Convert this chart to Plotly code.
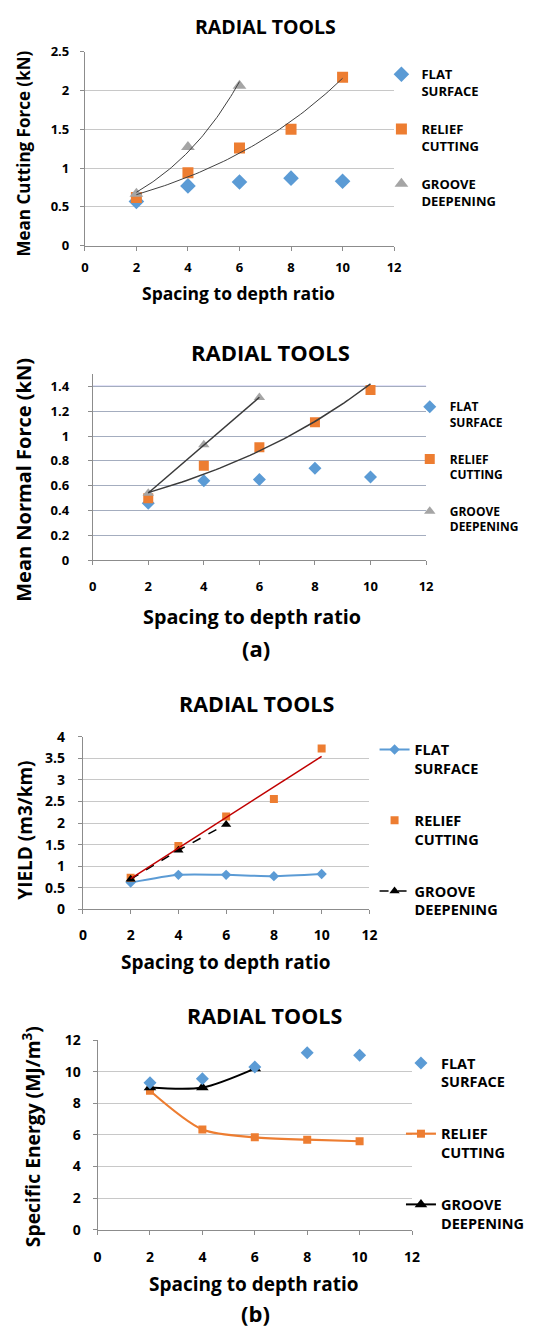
import numpy as np
import plotly.graph_objects as go

W, H = 539, 1338

# ---------------- data ----------------
ratio = [2, 4, 6, 8, 10]
ratio_groove = [2, 4, 6]
series_names = ["FLAT<br>SURFACE", "RELIEF<br>CUTTING", "GROOVE<br>DEEPENING"]

# (a) top: mean cutting force (kN)
fc_flat = [0.57, 0.77, 0.82, 0.87, 0.83]
fc_relief = [0.62, 0.94, 1.26, 1.50, 2.17]
fc_groove = [0.67, 1.27, 2.06]

# (a) bottom: mean normal force (kN)
fn_flat = [0.46, 0.64, 0.65, 0.74, 0.67]
fn_relief = [0.50, 0.76, 0.91, 1.11, 1.37]
fn_groove = [0.54, 0.93, 1.31]

# (b) top: yield (m3/km)
yl_flat = [0.62, 0.80, 0.80, 0.77, 0.82]
yl_relief = [0.73, 1.47, 2.15, 2.56, 3.73]
yl_groove = [0.70, 1.37, 1.97]

# (b) bottom: specific energy (MJ/m3)
se_flat = [9.3, 9.55, 10.3, 11.2, 11.05]
se_relief = [8.8, 6.35, 5.85, 5.7, 5.6]
se_groove = [9.0, 9.0, 10.2]

x_ticks = [0, 2, 4, 6, 8, 10, 12]

BLUE = "#5B9BD5"
ORANGE = "#ED7D31"
GRAY = "#A5A5A5"

FONT = "Open Sans"


def px_x(p):
    return p / W


def px_y(p):
    return 1 - p / H


def exp_fit(x, y, n=60):
    x = np.asarray(x, float)
    y = np.asarray(y, float)
    b, a = np.polyfit(x, np.log(y), 1)
    xs = np.linspace(x.min(), x.max(), n)
    return xs, np.exp(a) * np.exp(b * xs)


def lin_fit(x, y):
    x = np.asarray(x, float)
    y = np.asarray(y, float)
    m, c = np.polyfit(x, y, 1)
    xs = np.array([x.min(), x.max()])
    return xs, m * xs + c


fig = go.Figure()

# ---------- panel 1 ----------
fig.add_trace(go.Scatter(x=ratio, y=fc_flat, mode="markers", name=series_names[0],
                         marker=dict(symbol="diamond", size=12, color=BLUE),
                         xaxis="x", yaxis="y", legend="legend", legendgroup="a1"))
fig.add_trace(go.Scatter(x=ratio, y=fc_relief, mode="markers", name=series_names[1],
                         marker=dict(symbol="square", size=11, color=ORANGE),
                         xaxis="x", yaxis="y", legend="legend", legendgroup="a2"))
fig.add_trace(go.Scatter(x=ratio_groove, y=fc_groove, mode="markers", name=series_names[2],
                         marker=dict(symbol="triangle-up", size=12, color=GRAY),
                         xaxis="x", yaxis="y", legend="legend", legendgroup="a3"))
for xx, yy in [exp_fit(ratio_groove, fc_groove), exp_fit(ratio, fc_relief)]:
    fig.add_trace(go.Scatter(x=xx, y=yy, mode="lines", line=dict(color="#404040", width=1),
                             xaxis="x", yaxis="y", showlegend=False, hoverinfo="skip"))

# ---------- panel 2 ----------
fig.add_trace(go.Scatter(x=ratio, y=fn_flat, mode="markers", name=series_names[0],
                         marker=dict(symbol="diamond", size=10, color=BLUE),
                         xaxis="x2", yaxis="y2", legend="legend2", legendgroup="b1"))
fig.add_trace(go.Scatter(x=ratio, y=fn_relief, mode="markers", name=series_names[1],
                         marker=dict(symbol="square", size=10, color=ORANGE),
                         xaxis="x2", yaxis="y2", legend="legend2", legendgroup="b2"))
fig.add_trace(go.Scatter(x=ratio_groove, y=fn_groove, mode="markers", name=series_names[2],
                         marker=dict(symbol="triangle-up", size=10, color=GRAY),
                         xaxis="x2", yaxis="y2", legend="legend2", legendgroup="b3"))
for xx, yy in [lin_fit(ratio_groove, fn_groove), exp_fit(ratio, fn_relief)]:
    fig.add_trace(go.Scatter(x=xx, y=yy, mode="lines", line=dict(color="#3a3a3a", width=1.5),
                             xaxis="x2", yaxis="y2", showlegend=False, hoverinfo="skip"))

# ---------- panel 3 ----------
fig.add_trace(go.Scatter(x=ratio, y=yl_flat, mode="lines+markers", name=series_names[0],
                         line=dict(color=BLUE, width=2, shape="spline", smoothing=0.6),
                         marker=dict(symbol="diamond", size=8, color=BLUE),
                         xaxis="x3", yaxis="y3", legend="legend3", legendgroup="c1"))
fig.add_trace(go.Scatter(x=ratio, y=yl_relief, mode="markers", name=series_names[1],
                         marker=dict(symbol="square", size=8, color=ORANGE),
                         xaxis="x3", yaxis="y3", legend="legend3", legendgroup="c2"))
fig.add_trace(go.Scatter(x=ratio_groove, y=yl_groove, mode="lines+markers", name=series_names[2],
                         line=dict(color="black", width=1.5, dash="dash"),
                         marker=dict(symbol="triangle-up", size=9, color="black"),
                         xaxis="x3", yaxis="y3", legend="legend3", legendgroup="c3"))
xx, yy = lin_fit(ratio, yl_relief)
fig.add_trace(go.Scatter(x=xx, y=yy, mode="lines", line=dict(color="#C00000", width=1.5),
                         xaxis="x3", yaxis="y3", showlegend=False, hoverinfo="skip"))

# ---------- panel 4 ----------
fig.add_trace(go.Scatter(x=ratio, y=se_relief, mode="lines+markers", name=series_names[1],
                         line=dict(color=ORANGE, width=2.2, shape="spline", smoothing=0.8),
                         marker=dict(symbol="square", size=8, color=ORANGE),
                         xaxis="x4", yaxis="y4", legend="legend4", legendgroup="d2",
                         legendrank=2))
fig.add_trace(go.Scatter(x=ratio_groove, y=se_groove, mode="lines+markers", name=series_names[2],
                         line=dict(color="black", width=2, shape="spline", smoothing=0.8),
                         marker=dict(symbol="triangle-up", size=11, color="black"),
                         xaxis="x4", yaxis="y4", legend="legend4", legendgroup="d3",
                         legendrank=3))
fig.add_trace(go.Scatter(x=ratio, y=se_flat, mode="markers", name=series_names[0],
                         marker=dict(symbol="diamond", size=10, color=BLUE),
                         xaxis="x4", yaxis="y4", legend="legend4", legendgroup="d1",
                         legendrank=1))


# ---------- axes ----------
def xax(dom, anchor, tick_size, standoff, linecol="#8c8c8c"):
    return dict(domain=dom, anchor=anchor, range=[0, 12], tickvals=x_ticks,
                showgrid=False, zeroline=False, showline=True, linecolor=linecol,
                linewidth=1, ticks="outside", ticklen=4, tickcolor=linecol,
                ticklabelstandoff=standoff,
                tickfont=dict(family=FONT, size=tick_size, color="black", weight="bold"),
                fixedrange=True)


def yax(dom, anchor, rng, dtick, tick_size, standoff, gridcol="#c8c8c8", gridwidth=1,
        linecol="#8c8c8c"):
    return dict(domain=dom, anchor=anchor, range=rng, dtick=dtick, tick0=0,
                showgrid=True, gridcolor=gridcol, gridwidth=gridwidth,
                zeroline=False, showline=True, linecolor=linecol, linewidth=1,
                ticks="outside", ticklen=4, tickcolor=linecol,
                ticklabelstandoff=standoff,
                tickfont=dict(family=FONT, size=tick_size, color="black", weight="bold"),
                fixedrange=True)


layout = dict(
    width=W, height=H, margin=dict(l=0, r=0, t=0, b=0),
    paper_bgcolor="white", plot_bgcolor="white",
    font=dict(family=FONT, color="black", weight="bold"),
    showlegend=True,
    xaxis=xax([px_x(82.7), px_x(399)], "y", 13, 6),
    yaxis=yax([px_y(239), px_y(42.3)], "x", [0, 2.5], 0.5, 13, 8),
    xaxis2=xax([px_x(90.7), px_x(431.7)], "y2", 13, 10),
    yaxis2=yax([px_y(558.3), px_y(369.1)], "x2", [0, 1.5], 0.2, 13, 16,
               gridcol="#a4adbf", gridwidth=1.3),
    xaxis3=xax([px_x(80.7), px_x(373.7)], "y3", 14, 9),
    yaxis3=yax([px_y(912.3), px_y(737.3)], "x3", [0, 4], 0.5, 14, 10),
    xaxis4=xax([px_x(95.7), px_x(417.3)], "y4", 14, 10),
    yaxis4=yax([px_y(1237.3), px_y(1045)], "x4", [0, 12], 2, 14, 9),
)


def legend_cfg(x_text_px, y_top_px, size, gap):
    return dict(x=px_x(x_text_px - 36), y=px_y(y_top_px), xanchor="left", yanchor="top",
                font=dict(family=FONT, size=size, color="black", weight="bold"),
                bgcolor="rgba(0,0,0,0)", borderwidth=0, tracegroupgap=gap,
                traceorder="grouped", valign="top", itemclick=False, itemdoubleclick=False)


layout["legend"] = legend_cfg(422, 50, 13, 18)
layout["legend2"] = legend_cfg(451, 388, 12, 18)
layout["legend3"] = legend_cfg(415, 734, 14.5, 30)
layout["legend4"] = legend_cfg(442, 1052, 14.5, 30)

fig.update_layout(**layout)

# highlighted top gridline in panel 2
fig.add_shape(type="line", xref="x2 domain", yref="y2", x0=0, x1=1, y0=1.4, y1=1.4,
              line=dict(color="#8b8be0", width=1.3), layer="below")

ann = []


def text(x, y, s, size, angle=0):
    ann.append(dict(x=px_x(x), y=px_y(y), xref="paper", yref="paper", text=s,
                    showarrow=False, textangle=angle, xanchor="center", yanchor="middle",
                    font=dict(family=FONT, size=size, color="black", weight="bold")))


# panel 1
text(267, 17, "RADIAL TOOLS", 19.5)
text(240, 287, "Spacing to depth ratio", 17.5)
text(20, 146, "Mean Cutting Force (kN)", 17, -90)
# panel 2
text(273, 347, "RADIAL TOOLS", 22)
text(254, 615, "Spacing to depth ratio", 19.8)
text(20, 477, "Mean Normal Force (kN)", 20, -90)
text(258, 647, "(a)", 22)
# panel 3
text(258, 703, "RADIAL TOOLS", 21.5)
text(227, 966, "Spacing to depth ratio", 19)
text(22, 832, "YIELD (m3/km)", 19, -90)
# panel 4
text(266, 1020, "RADIAL TOOLS", 21.5)
text(256, 1292, "Spacing to depth ratio", 19)
text(28, 1143, "Specific Energy (MJ/m<sup>3</sup>)", 19.3, -90)
text(257, 1322, "(b)", 22)

fig.update_layout(annotations=ann)
fig.write_html("out.html")
